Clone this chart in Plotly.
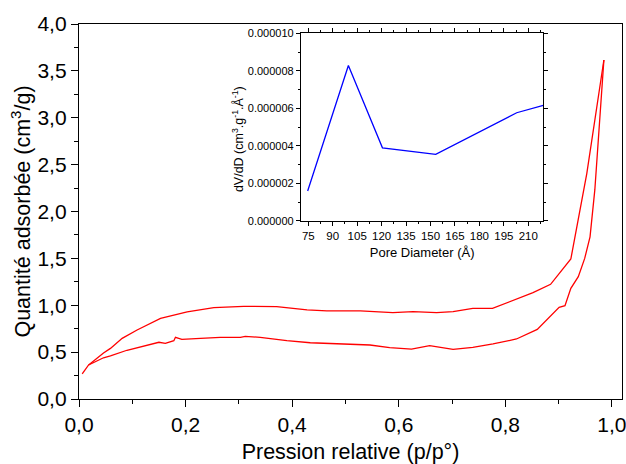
import plotly.graph_objects as go

# Main isotherm: adsorption (lower branch) and desorption (upper branch)
ads_p = [0.006, 0.018, 0.046, 0.059, 0.09, 0.121, 0.15, 0.162, 0.178, 0.181, 0.193,
         0.228, 0.265, 0.303, 0.312, 0.34, 0.39, 0.434, 0.489, 0.546, 0.583, 0.624,
         0.658, 0.702, 0.739, 0.777, 0.821, 0.86, 0.901, 0.912, 0.923, 0.937, 0.949,
         0.959, 0.968, 0.974, 0.98, 0.985]
ads_q = [0.267, 0.363, 0.44, 0.459, 0.52, 0.565, 0.605, 0.594, 0.622, 0.658, 0.637,
         0.647, 0.658, 0.658, 0.668, 0.658, 0.622, 0.6, 0.587, 0.576, 0.547, 0.533,
         0.569, 0.53, 0.551, 0.587, 0.64, 0.743, 0.978, 0.995, 1.18, 1.305, 1.5,
         1.73, 2.23, 2.763, 3.296, 3.616]

des_p = [0.985, 0.971, 0.953, 0.923, 0.885, 0.852, 0.812, 0.776, 0.739, 0.702, 0.671,
         0.627, 0.589, 0.528, 0.489, 0.465, 0.428, 0.371, 0.309, 0.253, 0.203, 0.153,
         0.109, 0.081, 0.059, 0.046, 0.018]
des_q = [3.616, 3.064, 2.407, 1.493, 1.223, 1.134, 1.049, 0.967, 0.967, 0.932, 0.921,
         0.932, 0.921, 0.939, 0.939, 0.939, 0.95, 0.985, 0.989, 0.974, 0.93, 0.86,
         0.736, 0.647, 0.54, 0.49, 0.363]

# Inset: pore size distribution
pore_d = [74.6, 99.6, 120.5, 153.2, 202.9, 219.2]
dvdd = [1.6e-6, 8.29e-6, 3.9e-6, 3.55e-6, 5.77e-6, 6.16e-6]

x_ticks = [0.0, 0.2, 0.4, 0.6, 0.8, 1.0]
x_ticktext = ["0,0", "0,2", "0,4", "0,6", "0,8", "1,0"]
y_ticks = [0.0, 0.5, 1.0, 1.5, 2.0, 2.5, 3.0, 3.5, 4.0]
y_ticktext = ["0,0", "0,5", "1,0", "1,5", "2,0", "2,5", "3,0", "3,5", "4,0"]

FONT = "Liberation Sans, Arial, sans-serif"
RED = "#ff0000"
BLUE = "#0000ff"

fig = go.Figure()
fig.add_trace(go.Scatter(x=ads_p, y=ads_q, mode="lines", line=dict(color=RED, width=1.3),
                         showlegend=False))
fig.add_trace(go.Scatter(x=des_p, y=des_q, mode="lines", line=dict(color=RED, width=1.3),
                         showlegend=False))
fig.add_trace(go.Scatter(x=pore_d, y=dvdd, mode="lines", line=dict(color=BLUE, width=1.3),
                         xaxis="x2", yaxis="y2", showlegend=False))

fig.update_layout(
    width=626, height=464,
    margin=dict(l=79, r=4, t=24, b=65),
    paper_bgcolor="white", plot_bgcolor="white",
    font=dict(family=FONT, color="black"),
    xaxis=dict(
        range=[0, 1.019], tickvals=x_ticks, ticktext=x_ticktext,
        showgrid=False, zeroline=False,
        showline=True, linecolor="black", linewidth=1.3, mirror=True,
        ticks="outside", ticklen=7, tickwidth=1.2, tickcolor="black",
        minor=dict(dtick=0.1, tick0=0, ticks="outside", ticklen=4, tickwidth=1.2, tickcolor="black"),
        tickfont=dict(size=21), ticklabeloverflow="allow",
        title=dict(text="Pression relative (p/p°)", font=dict(size=21.5), standoff=10),
        automargin=False,
    ),
    yaxis=dict(
        range=[0, 4], tickvals=y_ticks, ticktext=y_ticktext,
        showgrid=False, zeroline=False,
        showline=True, linecolor="black", linewidth=1.3, mirror=True,
        ticks="outside", ticklen=7, tickwidth=1.2, tickcolor="black",
        minor=dict(dtick=0.25, tick0=0, ticks="outside", ticklen=4, tickwidth=1.2, tickcolor="black"),
        tickfont=dict(size=21), ticklabeloverflow="allow",
        title=dict(text="Quantité adsorbée (cm<sup>3</sup>/g)", font=dict(size=21.5), standoff=0),
        automargin=False,
    ),
    xaxis2=dict(
        domain=[0.4088, 0.855], anchor="y2",
        range=[70.5, 219.2], tick0=75, dtick=15,
        showgrid=False, zeroline=False,
        showline=True, linecolor="black", linewidth=1.2, mirror="ticks",
        ticks="outside", ticklen=4, tickwidth=1, tickcolor="black",
        minor=dict(dtick=7.5, tick0=75, ticks="outside", ticklen=2, tickwidth=1, tickcolor="black"),
        tickfont=dict(size=11.5),
        title=dict(text="Pore Diameter (Å)", font=dict(size=13), standoff=7),
    ),
    yaxis2=dict(
        domain=[0.4747, 0.975], anchor="x2",
        range=[0, 1e-5], tick0=0, dtick=2e-6, tickformat=".6f",
        showgrid=False, zeroline=False,
        showline=True, linecolor="black", linewidth=1.2, mirror="ticks",
        ticks="outside", ticklen=4, tickwidth=1, tickcolor="black",
        minor=dict(dtick=1e-6, tick0=0, ticks="outside", ticklen=2, tickwidth=1, tickcolor="black"),
        tickfont=dict(size=11),
    ),
    annotations=[dict(
        text="dV/dD (cm<sup>3</sup>.g<sup>-1</sup>.Å<sup>-1</sup>)",
        xref="paper", yref="paper", x=0.293, y=0.6933,
        xanchor="center", yanchor="middle", textangle=-90, showarrow=False,
        font=dict(size=12.5, family=FONT, color="black"),
    )],
)

fig.write_html("out.html", config={"displayModeBar": False},
               post_script="document.body.style.margin='0';document.body.style.padding='0';")
